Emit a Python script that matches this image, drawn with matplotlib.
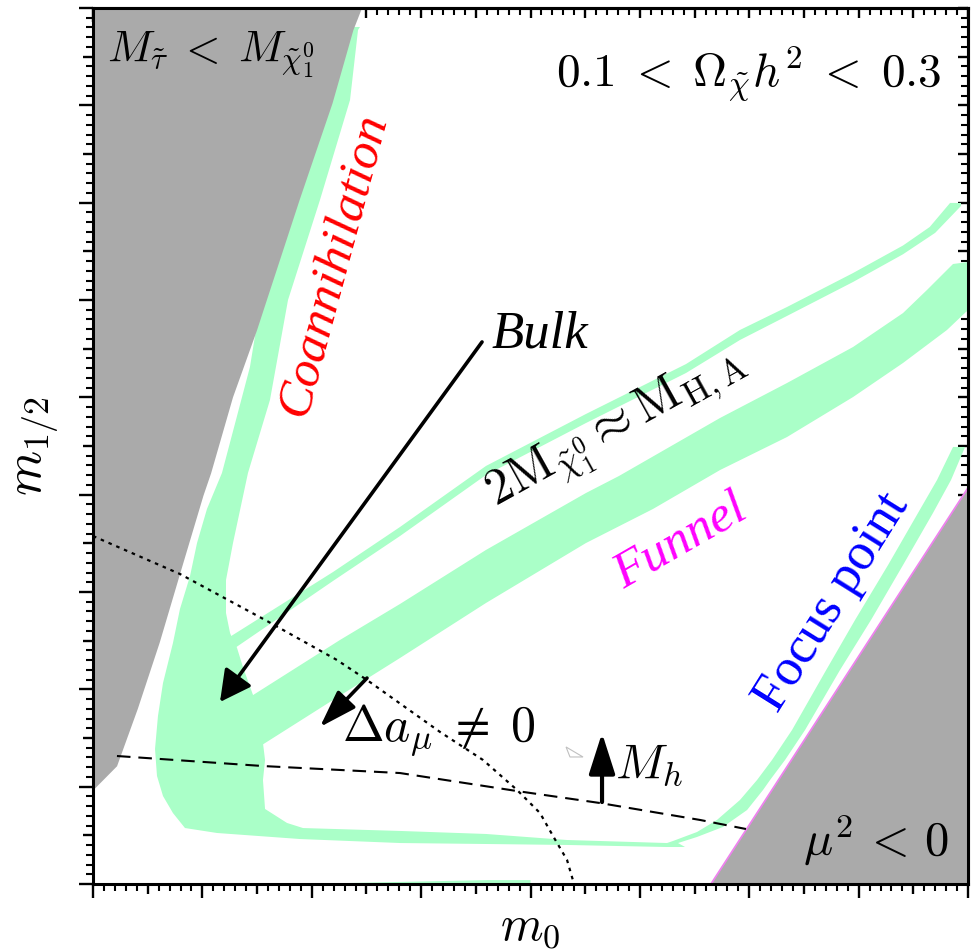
import matplotlib
matplotlib.use("Agg")
import matplotlib.pyplot as plt
from matplotlib.ticker import MultipleLocator

plt.rcParams['mathtext.fontset'] = 'cm'

# m0 runs 0..800, m1/2 runs 0..900 (arbitrary units, no tick labels in the original)
stau_m0 = [0, 246, 238, 219, 189, 159, 150, 128, 108, 101, 80, 61, 41, 22, 0]
stau_m12 = [900, 900, 877, 802, 703, 600, 569, 500, 422, 399, 320, 248, 180, 121, 96]

mu_m0 = [565, 800, 800]
mu_m12 = [0, 0, 407]

# coannihilation strip + bulk + low m1/2 strip + focus point strip
main_m0 = [236.8, 244.1, 242.3, 235.0, 207.5, 178.3, 161.8, 141.7, 128.0, 121.6, 121.6,
           125.3, 128.0, 131.7, 137.1, 146.3, 155.4, 157.3, 155.4, 157.3, 177.4, 192.0,
           280.7, 359.3, 433.4, 524.8, 530.3,
           552.2, 570.5, 591.5, 607.1, 620.8, 639.1, 669.3, 696.7, 726.9, 754.3, 771.7,
           786.3, 797.3,
           784.5, 768.0, 740.6, 711.3, 683.0, 651.0, 632.7, 619.0, 612.6, 598.0, 576.0,
           552.2, 534.9, 541.3, 524.8, 433.4, 359.3, 280.7, 189.3, 113.4, 84.1,
           73.1, 64.0, 58.5, 56.7, 59.4, 64.0, 73.1, 79.5, 88.7, 95.1, 104.2, 117.9,
           130.7, 143.5, 149.0, 157.3, 187.4, 217.6]
main_m12 = [880.5, 880.5, 877.4, 805.5, 702.7, 600.0, 497.3, 422.3, 350.3, 312.3, 278.4,
            257.9, 250.7, 242.5, 222.9, 194.2, 144.9, 127.4, 106.8, 77.1, 62.7, 57.5,
            54.5, 51.4, 45.2, 42.1, 44.2,
            53.4, 65.8, 86.3, 106.8, 127.4, 158.2, 217.8, 271.2, 327.7, 381.2, 415.1,
            449.0, 449.0,
            415.1, 381.2, 327.7, 271.2, 219.9, 158.2, 127.4, 106.8, 96.6, 76.0, 58.6,
            48.3, 42.1, 38.0, 38.0, 40.1, 41.1, 42.1, 46.2, 52.4, 57.5,
            72.9, 90.4, 111.0, 138.7, 172.6, 206.5, 247.6, 282.5, 316.4, 350.3, 385.3, 422.3,
            476.7, 531.2, 569.2, 600.0, 702.7, 805.5]

# thin sliver along the m0 axis
sliver_m0 = [190, 360, 400, 400, 190]
sliver_m12 = [0, 4, 4, 0, 0]

# upper (thin) funnel strip
thin_m0 = [123.4, 219.4, 280.7, 359.3, 450.7, 542.2, 591.5, 634.5, 694.9, 740.6, 765.0, 783.6, 793.6,
           793.6, 770.0, 740.6, 694.9, 634.5, 591.5, 542.2, 450.7, 359.3, 280.7, 219.4, 127.1]
thin_m12 = [252.7, 320.5, 366.8, 429.5, 482.9, 534.2, 569.2, 592.8, 627.7, 656.0, 675.0, 699.7, 699.7,
            696.6, 669.0, 647.0, 618.5, 583.6, 558.9, 525.0, 473.6, 420.2, 357.5, 311.3, 240.4]

# wide funnel band
wide_m0 = [143.5, 225.8, 280.7, 359.3, 450.7, 480.9, 573.3, 634.5, 694.9, 740.6, 762.5, 786.3, 800,
           800, 780.8, 740.6, 694.9, 634.5, 573.3, 512.0, 450.7, 359.3, 280.7, 219.4, 154.5]
wide_m12 = [192.1, 250.7, 287.7, 343.2, 401.7, 419.2, 478.8, 514.7, 551.7, 586.6, 610.3, 637.0, 639.0,
            589.7, 569.2, 535.3, 500.3, 459.2, 425.3, 385.3, 350.3, 288.7, 232.2, 189.0, 142.8]

# g-2 contour (dotted) and Higgs mass bound (dashed)
gm2_m0 = [0, 79.5, 159.1, 223.1, 250.5, 317.3, 356.6, 387.7, 408.7, 420.6, 433.4, 439.8]
gm2_m12 = [357.5, 318.5, 270.2, 230.1, 209.6, 156.2, 127.4, 96.6, 72.9, 49.3, 24.7, 0]

mh_m0 = [21.9, 155.4, 280.7, 387.7, 463.5, 555.0, 597.0]
mh_m12 = [131.5, 121.2, 114.0, 95.5, 83.2, 65.8, 56.5]

tri_m0 = [432.5, 448.0, 436.1]
tri_m12 = [140.8, 130.5, 130.5]

green = '#aaffc8'
grey = '#aaaaaa'

fig = plt.figure(figsize=(9.72, 9.52), dpi=100)
ax = fig.add_axes([93 / 972, 68 / 952, 875 / 972, 876 / 952])

ax.fill(main_m0, main_m12, color=green, lw=0, zorder=1)
ax.fill(thin_m0, thin_m12, color=green, lw=0, zorder=1)
ax.fill(wide_m0, wide_m12, color=green, lw=0, zorder=1)
ax.fill(sliver_m0, sliver_m12, color=green, lw=0, zorder=1)
ax.fill(stau_m0, stau_m12, color=grey, lw=0, zorder=2)
ax.fill(mu_m0, mu_m12, color=grey, lw=0, zorder=2)
ax.plot(mu_m0[::2], mu_m12[::2], color='violet', lw=1.3, zorder=2)

ax.plot(gm2_m0, gm2_m12, color='k', lw=1.6, ls=(0, (1.6, 2.2)), zorder=3)
ax.plot(mh_m0, mh_m12, color='k', lw=1.5, ls=(0, (6.5, 3.8)), zorder=3)
ax.fill(tri_m0, tri_m12, facecolor='none', edgecolor='#c0c0c0', lw=0.8, zorder=3)

ax.annotate('', xy=(116.1, 187.0), xytext=(355.7, 556.9),
            arrowprops=dict(arrowstyle='-|>,head_length=0.95,head_width=0.5', lw=2.6,
                            color='k', shrinkA=0, shrinkB=0, mutation_scale=20), zorder=4)
ax.annotate('', xy=(207.5, 161.3), xytext=(250.5, 211.6),
            arrowprops=dict(arrowstyle='-|>,head_length=1.15,head_width=0.38', lw=2.6,
                            color='k', shrinkA=0, shrinkB=0, mutation_scale=20), zorder=4)
ax.annotate('', xy=(465.4, 155.1), xytext=(465.4, 84.2),
            arrowprops=dict(arrowstyle='-|>,head_length=1.25,head_width=0.4', lw=3,
                            color='k', shrinkA=0, shrinkB=0, mutation_scale=20), zorder=4)

serif = 'Liberation Serif'
ax.text(12.8, 844.5, r'$M_{\tilde{\tau}}\;<\;M_{\tilde{\chi}_1^0}$', fontsize=32, zorder=5)
ax.text(775.3, 818.8,
        r'$\mathsf{0.1}\;<\;\Omega_{\tilde{\chi}} h^{\mathsf{2}}\;<\;\mathsf{0.3}$',
        fontsize=34, ha='right', zorder=5)
ax.text(220.3, 636.0, 'Coannihilation', family=serif, style='italic', fontsize=37,
        color='red', rotation=75, ha='center', va='center', zorder=5)
ax.text(363.9, 550.7, 'Bulk', family=serif, style='italic', fontsize=38, zorder=5)
ax.text(479.1, 466.4, r'$2\mathrm{M}_{\tilde{\chi}_1^0} \approx \mathrm{M}_{\mathrm{H,A}}$',
        fontsize=36, rotation=29, ha='center', va='center', zorder=5)
ax.text(537.6, 350.3, 'Funnel', family=serif, style='italic', fontsize=37,
        color='magenta', rotation=30, ha='center', va='center', zorder=5)
ax.text(675.7, 289.7, 'Focus point', family=serif, fontsize=38,
        color='blue', rotation=58, ha='center', va='center', zorder=5)
ax.text(227.7, 147.9, r'$\mathsf{\Delta} a_\mu\;\neq\;\mathsf{0}$', fontsize=36, zorder=5)
ax.text(477.3, 108.9, r'$M_h$', fontsize=35, zorder=5)
ax.text(649.2, 28.8, r'$\mu^{\mathsf{2}}\,<\,\mathsf{0}$', fontsize=35, zorder=5)

ax.set_xlim(0, 800)
ax.set_ylim(0, 900)
ax.set_xlabel(r'$m_{\mathsf{0}}$', fontsize=35)
ax.xaxis.label.set_va('baseline')
ax.xaxis.set_label_coords(0.5, -0.063)
ax.set_ylabel(r'$m_{1/2}$', fontsize=37, labelpad=13)

for s in ax.spines.values():
    s.set_linewidth(2.2)

sec_x = ax.secondary_xaxis('top')
sec_y = ax.secondary_yaxis('right')
for s in sec_x.spines.values():
    s.set_linewidth(2.2)
for s in sec_y.spines.values():
    s.set_linewidth(2.2)

for axis in [ax.xaxis, ax.yaxis, sec_x.xaxis, sec_y.yaxis]:
    axis.set_major_locator(MultipleLocator(50))
    axis.set_minor_locator(MultipleLocator(10))

ax.tick_params(which='both', direction='out', top=False, right=False,
               labelbottom=False, labelleft=False)
sec_x.tick_params(which='both', direction='in', labeltop=False)
sec_y.tick_params(which='both', direction='in', labelright=False)
for a in [ax, sec_x, sec_y]:
    a.tick_params(which='major', length=10, width=1.7)
    a.tick_params(which='minor', length=4.8, width=1.5)

# every other major tick is a medium one
for axis in [ax.xaxis, ax.yaxis, sec_x.xaxis, sec_y.yaxis]:
    for t, loc in zip(axis.get_major_ticks(), axis.get_majorticklocs()):
        if round(loc) % 100:
            t.tick1line.set_markersize(7.5)
            t.tick2line.set_markersize(7.5)

fig.savefig('out.png', dpi=100)
